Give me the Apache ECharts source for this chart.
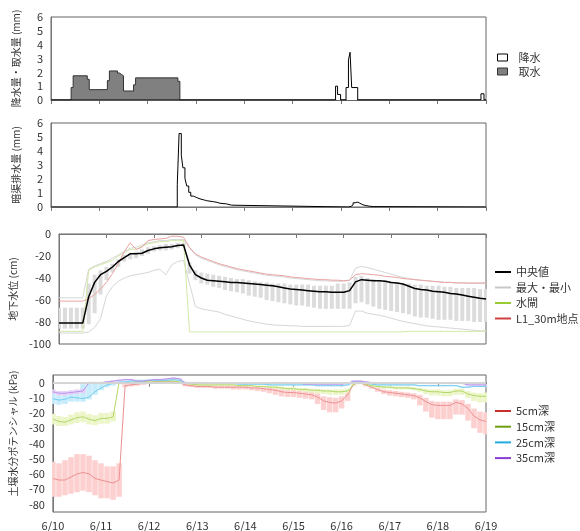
<!DOCTYPE html>
<html>
<head>
<meta charset="utf-8">
<script src="https://cdn.jsdelivr.net/npm/echarts@6/dist/echarts.min.js"></script>
<style>
  html, body { margin: 0; padding: 0; background: #fff; }
  #chart { width: 580px; height: 531px; }
</style>
</head>
<body>
<div id="chart"></div>
<script>
// Time axis in hours from 6/10 00:00 (9 days shown)
const dayTicks = ['6/10', '6/11', '6/12', '6/13', '6/14', '6/15', '6/16', '6/17', '6/18', '6/19'];

// Panel 1: rainfall and irrigation intake (mm/h), [start hour, value] steps
const rain = [[0, 0], [141.3, 1.0], [142.3, 0.4], [143.8, 0], [146.5, 0.9], [147.7, 2.9], [148.5, 3.45], [149.3, 0.9], [152.3, 0], [213.5, 0.45], [215, 0], [216, 0]];
const intake = [[0, 0], [10, 0.9], [11, 1.75], [18, 1.5], [19, 0.75], [28, 1.4], [29, 2.1], [33, 1.95], [34, 1.85], [35, 1.75], [36, 0.65], [41, 1.1], [42, 1.6], [63, 1.35], [64, 0], [216, 0]];

// Panel 2: subsurface drainage (mm/h)
const drain = [[0, 0], [62.7, 1.6], [63.6, 5.25], [64.7, 3.7], [65.5, 2.8], [66.5, 2.05], [67.4, 1.5], [68.4, 1.05], [69.4, 0.78], [70.7, 0.67], [72.4, 0.58], [74, 0.52], [75.6, 0.45], [77.3, 0.38], [80.6, 0.3], [81.5, 0.33], [82.5, 0.27], [83.9, 0.22], [87.2, 0.13], [89.7, 0],
  [148, 0.05], [149, 0.15], [150, 0.3], [151, 0.35], [152, 0.3], [153, 0.22], [154, 0.15], [155, 0.1], [156.5, 0.06], [158, 0.03], [160, 0], [216, 0]];

// Panels 3 and 4 share a 3-hour sampling grid
const hours = [];
for (let h = 0; h <= 216; h += 3) hours.push(h);

// Panel 3: groundwater level (cm)
const gwMedian = [-81, -81, -81, -81, -81, -57, -44, -37,
  -34, -30, -25, -21.5, -18, -18, -17.5, -15,
  -13.5, -12.5, -12, -11.5, -10.5, -10, -28, -37,
  -40, -42, -42.5, -43, -43.5, -44, -44, -44.5,
  -45, -45.5, -46, -46.5, -47, -48, -49, -50,
  -50.5, -51, -51.5, -52, -52.5, -52.5, -53, -53,
  -53, -51.5, -43.5, -41.5, -42, -42.5, -42.5, -43,
  -44, -44.5, -45.5, -47.5, -49.5, -50.5, -51, -52,
  -52.5, -53, -54, -54.5, -55.5, -56.5, -57.5, -58.5,
  -59];
const gwUpper = [-67, -67, -67, -67, -67, -45, -37, -33,
  -30, -27, -23, -19, -17, -16, -14, -12,
  -11, -10, -9, -9, -8, -8, -26, -33,
  -35, -36, -37, -38, -39, -40, -41, -41,
  -42, -43, -44, -44, -45, -45, -45, -46,
  -46, -46, -46, -47, -47, -47, -47, -45,
  -45, -44, -39, -38, -40, -41, -42, -42,
  -43, -44, -45, -45, -46, -46, -47, -47,
  -47, -48, -48, -49, -49, -49, -49, -50,
  -50];
const gwLower = [-86, -86, -86, -86, -86, -82, -72, -55,
  -42, -35, -30, -25, -23, -22, -20, -18,
  -16, -15, -15, -14, -13, -12, -36, -42,
  -45, -46, -48, -49, -51, -52, -53, -54,
  -56, -57, -58, -60, -61, -62, -63, -64,
  -65, -65, -66, -67, -68, -68, -68, -68,
  -68, -68, -63, -62, -64, -66, -68, -69,
  -70, -71, -72, -73, -75, -76, -76, -77,
  -78, -78, -78, -79, -79, -79, -80, -80,
  -80];
const gwMax = [-58, -58, -58, -58, -58, -32, -29, -27,
  -25, -22, -19, -16, -13, -12, -10, -8,
  -7, -6, -6, -5, -5, -5, -13, -19,
  -22, -24, -26, -28, -29.5, -31, -32.5, -33.5,
  -34.5, -35.5, -36.5, -37.5, -38, -38.5, -39, -40,
  -40.5, -41, -41.5, -42, -42.5, -42.5, -43, -43,
  -43, -42, -31, -29.5, -30.5, -32, -33.5, -35,
  -36.5, -38, -39.5, -40.5, -41.5, -42, -42.5, -43,
  -43.5, -44, -44, -44.5, -44.5, -45, -45, -45,
  -45];
const gwMin = [-90, -90, -90, -90, -90, -89, -85, -77,
  -56, -48, -43, -40, -38, -37, -36, -35,
  -33, -32, -37, -28, -25, -24, -45, -66,
  -68, -69, -70, -71, -73, -74.5, -76, -77.5,
  -79, -80, -81, -82, -82.5, -83, -83, -83.5,
  -83.5, -84, -84, -84, -84, -84, -84, -84,
  -84, -83, -70, -70, -72, -73, -74, -75,
  -76.5, -78, -79.5, -80.5, -81.5, -82.5, -83.5, -84,
  -84.5, -85, -85.5, -86, -86.5, -87, -87.5, -88,
  -88];
const gwGate = [-88.5, -88.5, -88.5, -88.5, -88.5, -33, -30, -28,
  -26, -24, -20, -17, -14, -14, -11, -9,
  -8, -7, -7, -6, -6, -6, -89, -89,
  -89, -89, -89, -89, -89, -89, -89, -89,
  -89, -89, -89, -89, -89, -89, -89, -89,
  -89, -89, -89, -89, -89, -89, -89, -89,
  -89, -89, -89, -89, -89, -89, -89, -89,
  -89, -89, -89, -88.5, -88.5, -88.5, -88.5, -88.5,
  -88.5, -88.5, -88.5, -88.5, -88.5, -88.5, -88.5, -88.5,
  -88.5];
const gwL1 = [-61, -61, -61, -61, -61, -59, -55, -50,
  -44, -36, -27, -16, -8, -14, -12, -6,
  -5, -4.5, -4, -2, -2, -3, -12, -18,
  -21, -23, -25, -27, -28.5, -30, -31.5, -32.5,
  -33.5, -34.5, -35.5, -36.5, -37, -37.5, -38, -39,
  -39.5, -40, -40.5, -41, -41.5, -41.5, -42, -42,
  -42.5, -42, -37, -36, -36.5, -37, -37.5, -38.5,
  -39, -39.5, -40.5, -41, -41.5, -42, -42.5, -43,
  -43.5, -44, -44, -44.5, -44.5, -44.5, -44.5, -44.5,
  -44.5];

// Panel 4: soil water potential (kPa), median with upper/lower range per depth
const p5Med = [-63, -64, -64, -62, -60, -59, -60, -63,
  -64, -65, -66, -64, -2, -1.5, -1, -0.5,
  0, 0.5, 0.5, 0.5, 0.5, 0, -1.5, -2,
  -2.5, -2.5, -2.5, -3, -3, -3, -3, -3,
  -3, -3.5, -3.5, -4, -4.5, -5, -6, -6.5,
  -6.5, -7, -7.5, -8, -9.5, -12, -13, -13.5,
  -12, -8, -1, 0, -1.5, -3, -4.5, -6,
  -6.5, -7, -7.5, -8, -8.5, -10, -12.5, -14.5,
  -15, -15, -15, -13, -14, -17, -22, -24.5,
  -25.5];
const p5Hi = [-52, -53, -51, -49, -47, -47, -48, -51,
  -53, -55, -55, -53, -1, 0, 0, 0.5,
  1, 1.5, 1.5, 1.5, 1.5, 1, -0.5, -1,
  -1.5, -1.5, -1.5, -2, -2, -2, -2, -2,
  -2, -2.5, -2.5, -3, -3, -3.5, -4, -4.5,
  -4.5, -5, -5, -5.5, -7, -9, -9.5, -10,
  -9, -5.5, 0, 1, -0.5, -2, -3, -4.5,
  -5, -5.5, -6, -6.5, -7, -8, -10, -12,
  -12.5, -12.5, -12.5, -11, -11.5, -14, -17, -19,
  -19.5];
const p5Lo = [-75, -75, -74, -73, -72, -71, -72, -74,
  -76, -76, -77, -75, -3, -2.5, -2, -1.5,
  -1, -0.5, -0.5, -0.5, -0.5, -1, -2.5, -3,
  -3.5, -3.5, -3.5, -4, -4, -4, -4.5, -4.5,
  -4.5, -5, -5.5, -6, -7, -8, -9, -9.5,
  -9.5, -10, -10.5, -11, -14, -18, -19.5, -19.5,
  -17, -12, -2, -1, -2.5, -4, -6, -7.5,
  -8.5, -9, -9.5, -10, -11, -15, -19, -23,
  -24, -24, -24, -21, -21, -25, -30, -33,
  -34];
const p15Med = [-24, -25.5, -26, -24.5, -23, -22.5, -24, -25,
  -23.5, -23.5, -22.5, 0, 0, 0, 0.5, 0.5,
  1, 1, 1, 1, 1, 0.5, -0.5, -1,
  -1.5, -1.5, -1.5, -1.5, -1.5, -1.5, -1.5, -2,
  -2, -2, -2.5, -2.5, -3, -3, -3.5, -4,
  -4, -4.5, -4.5, -5, -5, -5.5, -5.5, -6,
  -6, -5.5, -1, 0, -1, -2, -2.5, -3,
  -3, -3.5, -3.5, -3.5, -4, -4.5, -5.5, -6,
  -6, -6.5, -6.5, -5.5, -5.5, -7.5, -8.5, -9,
  -9];
const p15Hi = [-20.5, -22, -22.5, -21, -19.5, -19, -20.5, -21.5,
  -20, -20, -19, 0.5, 0.5, 0.5, 1, 1,
  1.5, 1.5, 1.5, 1.5, 1.5, 1, 0, -0.5,
  -1, -1, -1, -1, -1, -1, -1, -1.5,
  -1.5, -1.5, -2, -2, -2, -2, -2.5, -3,
  -3, -3.5, -3.5, -4, -4, -4.5, -4.5, -4.5,
  -4.5, -4, 0, 1, 0, -1, -1.5, -2,
  -2, -2.5, -2.5, -2.5, -3, -3.5, -4, -4.5,
  -4.5, -5, -5, -4, -4, -5.5, -6.5, -7,
  -6.5];
const p15Lo = [-27.5, -28.5, -28.5, -27.5, -26.5, -26, -27.5, -28,
  -27, -27, -25.5, -1, -0.5, -0.5, 0, 0,
  0.5, 0.5, 0.5, 0.5, 0.5, 0, -1, -1.5,
  -2, -2, -2, -2, -2, -2, -2, -2.5,
  -2.5, -2.5, -3, -3, -3.5, -4, -4.5, -5,
  -5, -5.5, -6, -6.5, -7, -7.5, -8, -8,
  -8, -7, -2, -1, -2, -3, -3.5, -4,
  -4, -4.5, -4.5, -4.5, -5, -6, -7.5, -8.5,
  -8.5, -9, -9, -8, -8, -10, -12, -13,
  -13];
const p25Med = [-10.5, -11.5, -11, -9.5, -10, -10.5, -9.5, -6,
  -3.5, -1.5, -0.5, 0.3, 0.5, 1, 1, 1,
  1.5, 1.5, 1.5, 1.5, 2, 1.5, 0, -0.5,
  -0.5, -0.5, -0.5, -0.5, -0.5, -0.5, -0.5, -1,
  -1, -1, -1, -1, -1.5, -1.5, -1.5, -1.5,
  -1.5, -1.5, -1.5, -1.5, -2, -2, -2, -2,
  -2, -1.5, 0.5, 0.5, 0, -1, -1.5, -1.5,
  -1.5, -1.5, -1.5, -1.5, -1.5, -2, -2, -2,
  -2, -2, -2, -2, -3, -3, -2.5, -2.5,
  -2.5];
const p25Hi = [-7.5, -8.5, -8, -7, -7, -1, 0, 0,
  0, 0.5, 0.5, 1, 1.5, 2, 2, 2,
  2.5, 2.5, 2.5, 2.5, 3, 2.5, 0.5, 0,
  0, 0, 0, 0, 0, 0, 0, -0.5,
  -0.5, -0.5, -0.5, -0.5, -1, -1, -1, -1,
  -1, -1, -1, -1, -1.5, -1.5, -1.5, -1.5,
  -1.5, -1, 1, 1, 0.5, -0.5, -1, -1,
  -1, -1, -1, -1, -1, -1.5, -1.5, -1.5,
  -1.5, -1.5, -1.5, -1.5, -2.5, -2.5, -2, -2,
  -2];
const p25Lo = [-14, -14.5, -14, -12.5, -12.5, -12.5, -11, -8,
  -5, -3, -2, -0.5, 0, 0.5, 0.5, 0.5,
  1, 1, 1, 1, 1.5, 1, -0.5, -1,
  -1, -1, -1, -1, -1, -1, -1, -1.5,
  -1.5, -1.5, -1.5, -1.5, -2, -2, -2, -2,
  -2, -2, -2, -2, -2.5, -2.5, -2.5, -2.5,
  -2.5, -2, 0, 0, -0.5, -1.5, -2, -2,
  -2, -2, -2, -2, -2, -2.5, -2.5, -2.5,
  -2.5, -2.5, -2.5, -2.5, -3.5, -3.5, -3, -3,
  -3];
const p35Med = [-6, -7, -7, -6.5, -6, -5.5, 0, 0,
  0, 0.5, 1, 1.5, 2, 2, 1, 1,
  1.5, 2, 2, 2.5, 3, 2.5, 0, 0,
  0, 0, -0.5, -0.5, -0.5, -0.5, -0.5, -0.5,
  -0.5, -0.5, -0.5, -0.5, -0.5, 0, 0, -0.5,
  -0.5, -0.5, -1, -1, -1, -1, -1, -1,
  -1, -0.5, 1, 1, 0.5, 0, -0.5, -0.5,
  -0.5, -0.5, -0.5, -0.5, -0.5, 0, -0.5, -0.5,
  -0.5, -0.5, -0.5, 0, -0.5, -1.5, -1.5, -1.5,
  -1.5];
const p35Hi = [-4.5, -5.5, -5.5, -5, -4.5, -4, 0.5, 0.5,
  0.5, 1, 1.5, 2, 2.5, 2.5, 1.5, 1.5,
  2, 2.5, 2.5, 3, 3.5, 3, 0.5, 0.5,
  0.5, 0.5, 0, 0, 0, 0, 0, 0,
  0, 0, 0, 0, 0, 0.5, 0.5, 0,
  0, 0, -0.5, -0.5, -0.5, -0.5, -0.5, -0.5,
  -0.5, 0, 1.5, 1.5, 1, 0.5, 0, 0,
  0, 0, 0, 0, 0, 0.5, 0, 0,
  0, 0, 0, 0.5, 0, -1, -1, -1,
  -1];
const p35Lo = [-7.5, -8.5, -8.5, -8, -7.5, -7, -0.5, -0.5,
  -0.5, 0, 0.5, 1, 1.5, 1.5, 0.5, 0.5,
  1, 1.5, 1.5, 2, 2.5, 2, -0.5, -0.5,
  -0.5, -0.5, -1, -1, -1, -1, -1, -1,
  -1, -1, -1, -1, -1, -0.5, -0.5, -1,
  -1, -1, -1.5, -1.5, -1.5, -1.5, -1.5, -1.5,
  -1.5, -1, 0.5, 0.5, 0, -0.5, -1, -1,
  -1, -1, -1, -1, -1, -0.5, -1, -1,
  -1, -1, -1, -0.5, -1, -2, -2, -2,
  -2];

const FONT = "'Noto Sans CJK JP', 'Noto Sans', sans-serif";
const TXT = '#333';

const pairs = (vals) => hours.map((h, i) => [h, vals[i]]);
const ranges = (lo, hi) => hours.map((h, i) => [h, lo[i], hi[i]]);

// vertical range bars drawn per sample through the axis scales
function rangeBars(name, gi, lo, hi, color, w) {
  return {
    name, type: 'custom', xAxisIndex: gi, yAxisIndex: gi, clip: true, silent: true,
    data: ranges(lo, hi),
    encode: { x: 0, y: [1, 2] },
    renderItem: function (params, api) {
      const top = api.coord([api.value(0), api.value(2)]);
      const bot = api.coord([api.value(0), api.value(1)]);
      return {
        type: 'rect',
        shape: { x: top[0] - w / 2, y: top[1], width: w, height: Math.max(1, bot[1] - top[1]) },
        style: { fill: color }
      };
    }
  };
}

function line(name, gi, data, color, width, z) {
  return {
    name, type: 'line', xAxisIndex: gi, yAxisIndex: gi, data,
    showSymbol: false, symbol: 'none', silent: true, z: z || 3,
    lineStyle: { color, width }, itemStyle: { color }
  };
}

const grids = [
  { left: 51, top: 17, width: 435, height: 83 },
  { left: 51, top: 123, width: 435, height: 84 },
  { left: 51, top: 234, width: 435, height: 110 },
  { left: 51, top: 375, width: 435, height: 138 }
].map(g => Object.assign(g, { show: true, borderColor: '#666', borderWidth: 1, backgroundColor: 'transparent' }));

const xAxes = [0, 1, 2, 3].map(i => ({
  type: 'value', gridIndex: i, min: 0, max: 216, interval: 24,
  axisLine: { show: true, lineStyle: { color: '#777' } },
  axisTick: { show: true, length: 4, lineStyle: { color: '#777' } },
  splitLine: { show: false },
  axisLabel: {
    show: i === 3, color: TXT, fontSize: 11, fontFamily: FONT, margin: 8,
    formatter: v => dayTicks[Math.round(v / 24)]
  }
}));

const yBase = (i, name, min, max, interval, fmt, namePad) => ({
  type: 'value', gridIndex: i, min, max, interval,
  name, nameLocation: 'middle', nameGap: 30, nameRotate: 90,
  nameTextStyle: { color: TXT, fontSize: 10, fontFamily: FONT, padding: namePad || 0 },
  axisLine: { show: true, lineStyle: { color: '#777' } },
  axisTick: { show: false },
  splitLine: { show: false },
  axisLabel: { color: TXT, fontSize: 11, fontFamily: FONT, margin: 8, formatter: fmt }
});

const yAxes = [
  yBase(0, '降水量・取水量 (mm)', 0, 6, 1),
  yBase(1, '暗渠排水量 (mm)', 0, 6, 1),
  yBase(2, '地下水位 (cm)', -100, 0, 20),
  yBase(3, '土壌水分ポテンシャル (kPa)', -85, 5, 5, v => (v % 10 === 0 ? String(v) : ''), [0, 0, 0, 20])
];

const legText = { color: TXT, fontSize: 11, fontFamily: FONT, lineHeight: 14 };

const legends = [
  {
    orient: 'vertical', left: 497, top: 51, padding: 0, icon: 'rect', itemWidth: 10, itemHeight: 7, itemGap: 1,
    selectedMode: false,
    textStyle: Object.assign({}, legText, { lineHeight: 13, padding: [0, 0, 0, 6] }),
    data: [
      { name: '降水', itemStyle: { color: '#fff', borderColor: '#000', borderWidth: 1 } },
      { name: '取水', itemStyle: { color: '#808080', borderColor: '#333', borderWidth: 1 } }
    ]
  },
  {
    orient: 'vertical', left: 495, top: 265, padding: 0, icon: 'rect', itemWidth: 16, itemHeight: 2, itemGap: 1.5,
    selectedMode: false, textStyle: legText,
    data: [
      { name: '中央値', itemStyle: { color: '#000' } },
      { name: '最大・最小', itemStyle: { color: '#c8c8c8' } },
      { name: '水閘', itemStyle: { color: '#99cc33' } },
      { name: 'L1_30m地点', itemStyle: { color: '#d04040' } }
    ]
  },
  {
    orient: 'vertical', left: 495, top: 404, padding: 0, icon: 'rect', itemWidth: 16, itemHeight: 2, itemGap: 1.7,
    selectedMode: false, textStyle: legText,
    data: [
      { name: '5cm深', itemStyle: { color: '#c8302c' } },
      { name: '15cm深', itemStyle: { color: '#6e9e12' } },
      { name: '25cm深', itemStyle: { color: '#22ace0' } },
      { name: '35cm深', itemStyle: { color: '#8a3cd6' } }
    ]
  }
];

const series = [
  // panel 1
  {
    name: '取水', type: 'line', step: 'end', xAxisIndex: 0, yAxisIndex: 0, data: intake,
    symbol: 'none', silent: true, z: 2,
    lineStyle: { color: '#333', width: 1 }, itemStyle: { color: '#808080' },
    areaStyle: { color: '#808080', opacity: 1 }
  },
  {
    name: '降水', type: 'line', step: 'end', xAxisIndex: 0, yAxisIndex: 0, data: rain,
    symbol: 'none', silent: true, z: 3,
    lineStyle: { color: '#000', width: 1 }, itemStyle: { color: '#fff' },
    areaStyle: { color: '#fff', opacity: 1 }
  },
  // panel 2
  {
    name: '暗渠排水量', type: 'line', step: 'end', xAxisIndex: 1, yAxisIndex: 1, data: drain,
    symbol: 'none', silent: true, lineStyle: { color: '#000', width: 1 }, itemStyle: { color: '#000' }
  },
  // panel 3
  rangeBars('地下水位 範囲', 2, gwLower, gwUpper, '#dcdcdc', 4),
  line('最大・最小', 2, pairs(gwMax), '#d6d6d6', 1),
  line('最大・最小', 2, pairs(gwMin), '#d6d6d6', 1),
  line('水閘', 2, pairs(gwGate), '#d3e8a8', 1),
  line('L1_30m地点', 2, pairs(gwL1), '#eba3a3', 1),
  line('中央値', 2, pairs(gwMedian), '#000', 1.5, 5),
  // panel 4
  {
    name: 'ゼロ線', type: 'line', xAxisIndex: 3, yAxisIndex: 3, data: [], symbol: 'none', silent: true, z: 1,
    markLine: {
      silent: true, symbol: 'none', label: { show: false },
      lineStyle: { color: '#d4d4d4', width: 2, type: 'solid' },
      data: [{ yAxis: 0 }]
    }
  },
  rangeBars('5cm深 範囲', 3, p5Lo, p5Hi, '#fdd0d0', 5.5),
  rangeBars('15cm深 範囲', 3, p15Lo, p15Hi, '#ebf5c6', 5.5),
  rangeBars('25cm深 範囲', 3, p25Lo, p25Hi, '#c6ebfa', 5.5),
  rangeBars('35cm深 範囲', 3, p35Lo, p35Hi, '#e4d2f7', 5.5),
  line('5cm深', 3, pairs(p5Med), '#ec9090', 1),
  line('15cm深', 3, pairs(p15Med), '#b3d66a', 1),
  line('25cm深', 3, pairs(p25Med), '#74cdef', 1),
  line('35cm深', 3, pairs(p35Med), '#bb93ea', 1)
];

const chart = echarts.init(document.getElementById('chart'), null, { renderer: 'canvas' });
chart.setOption({
  animation: false,
  backgroundColor: '#fff',
  textStyle: { fontFamily: FONT },
  grid: grids,
  xAxis: xAxes,
  yAxis: yAxes,
  legend: legends,
  series
});
</script>
</body>
</html>
